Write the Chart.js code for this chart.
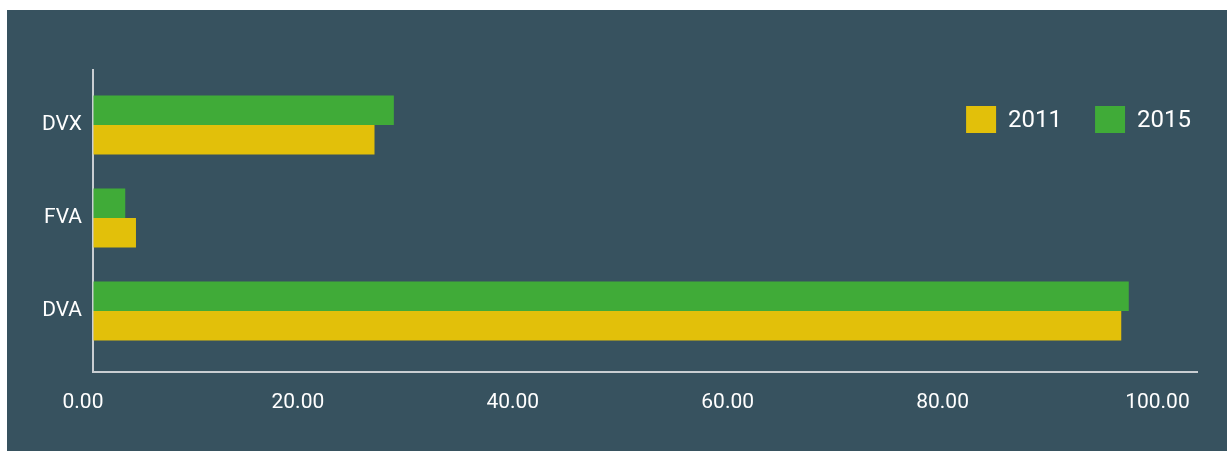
<!DOCTYPE html>
<html>
<head>
<meta charset="utf-8">
<script src="https://cdn.jsdelivr.net/npm/chart.js@4/dist/chart.umd.min.js"></script>
<style>
  html, body { margin: 0; padding: 0; background: #ffffff; overflow: hidden; width: 1227px; height: 451px; }
  #wrap { position: absolute; left: 7px; top: 10px; width: 1230px; height: 441px; background: #37525f; }
</style>
</head>
<body>
<div id="wrap"><canvas id="c"></canvas></div>
<script>
const categories = ['DVX', 'FVA', 'DVA'];
const seriesNames = ['2011', '2015'];
const values2011 = [26.2, 4.0, 95.7];
const values2015 = [28.0, 3.0, 96.4];
const xTicks = [0, 20, 40, 60, 80, 100];
const xMax = 102.75;

const COL_2011 = '#e2c00a';
const COL_2015 = '#40ab38';
const AXIS_COL = '#c9ced2';

Chart.defaults.font.family = 'Roboto';
Chart.defaults.color = '#ffffff';

const toPoints = vals => vals.map((v, i) => ({ x: v, y: i }));

const legendShift = {
  id: 'legendShift',
  afterLayout(chart) {
    const l = chart.legend;
    if (!l) return;
    const dx = 27, dy = 63;
    l.left += dx; l.right += dx;
    l.top += dy; l.bottom += dy;
  }
};

new Chart(document.getElementById('c'), {
  type: 'bar',
  data: {
    datasets: [
      { label: seriesNames[1], data: toPoints(values2015), backgroundColor: COL_2015, borderWidth: 0 },
      { label: seriesNames[0], data: toPoints(values2011), backgroundColor: COL_2011, borderWidth: 0 }
    ]
  },
  options: {
    indexAxis: 'y',
    responsive: true,
    maintainAspectRatio: false,
    animation: false,
    categoryPercentage: 0.634,
    barPercentage: 1,
    layout: { padding: { top: 0, right: 40, bottom: 0, left: 0 } },
    scales: {
      x: {
        type: 'linear',
        min: 0, max: xMax,
        offset: false,
        afterBuildTicks(scale) { scale.ticks = xTicks.map(v => ({ value: v })); },
        afterFit(scale) { scale.height = 79; },
        ticks: {
          padding: 18,
          labelOffset: -10,
          font: { size: 21 },
          color: '#ffffff',
          callback: v => Number(v).toFixed(2)
        },
        grid: { drawOnChartArea: false, drawTicks: false, color: 'transparent' },
        border: { display: true, color: AXIS_COL, width: 2 }
      },
      y: {
        type: 'linear',
        reverse: true,
        offset: false,
        min: -0.5914, max: 2.656,
        afterBuildTicks(scale) { scale.ticks = categories.map((c, i) => ({ value: i })); },
        afterFit(scale) { scale.width = 86; },
        ticks: {
          padding: 11,
          font: { size: 21 },
          color: '#ffffff',
          callback: v => categories[v] ?? ''
        },
        grid: { drawOnChartArea: false, drawTicks: false, color: 'transparent' },
        border: { display: true, color: AXIS_COL, width: 2 }
      }
    },
    plugins: {
      legend: {
        position: 'top',
        align: 'end',
        reverse: true,
        maxHeight: 60,
        labels: {
          boxWidth: 30, boxHeight: 30, padding: 33,
          font: { size: 24 },
          color: '#ffffff'
        }
      },
      tooltip: { enabled: false }
    }
  },
  plugins: [legendShift]
});
</script>
</body>
</html>
